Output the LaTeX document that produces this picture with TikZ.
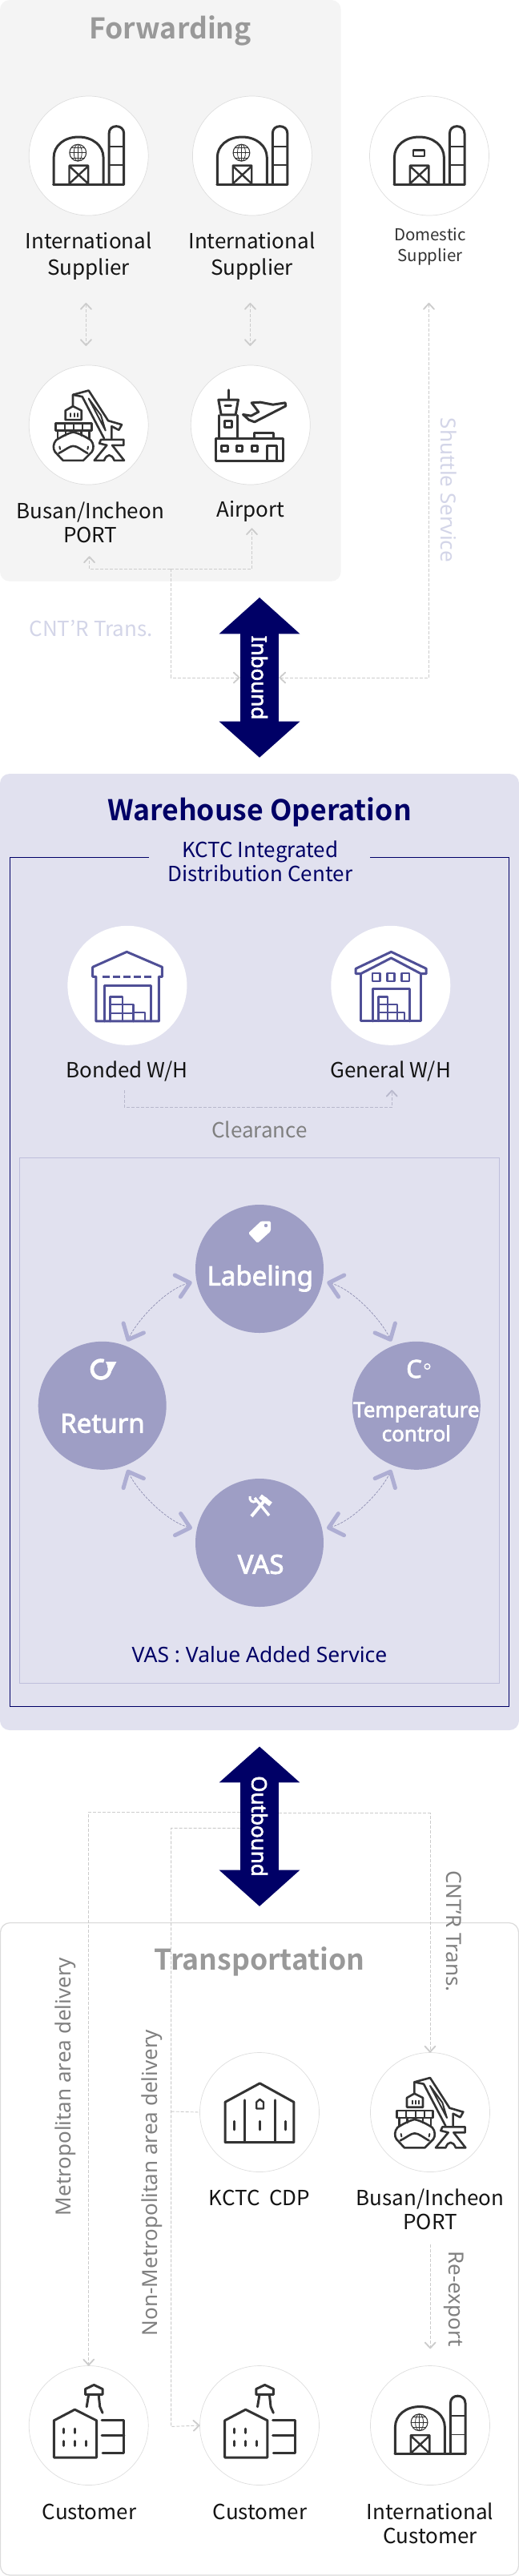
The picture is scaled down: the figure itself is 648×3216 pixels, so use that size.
\documentclass[tikz,border=0pt]{standalone}
\usepackage{fontspec}
\usetikzlibrary{arrows.meta}
\newfontfamily\kr{Noto Sans CJK KR}
\newfontfamily\krb{Noto Sans CJK KR Bold}
\newfontfamily\ns{Noto Sans}
\newfontfamily\nsb[FakeBold=2.6]{Noto Sans}
\definecolor{navyk}{HTML}{000066}
\definecolor{panelg}{HTML}{F4F4F4}
\definecolor{panelv}{HTML}{E1E1EF}
\definecolor{iconk}{HTML}{333333}
\definecolor{iconv}{HTML}{4F4F96}
\definecolor{circv}{HTML}{9E9EC5}
\definecolor{tipv}{HTML}{AEAED3}
\definecolor{paleT}{HTML}{D3D5E8}
\definecolor{flowg}{HTML}{CCCCCC}
\definecolor{flowvc}{HTML}{B8B8CC}
\tikzset{
  tipb/.tip={Straight Barb[length=7pt,width=13pt,line width=1.8pt,round]},
  tipp/.tip={Straight Barb[length=16pt,width=28pt,line width=5pt,round,color=tipv]},
  flow/.style={draw=flowg,line width=0.9pt,dash pattern=on 4pt off 2pt},
  flowv/.style={draw=flowvc,line width=0.9pt,dash pattern=on 4pt off 2pt},
  proc/.style={draw=black!10!circv,line width=0.7pt,dash pattern=on 3pt off 1.5pt,{tipp}-{tipp},shorten <=6pt,shorten >=6pt},
  wcirc/.style={circle,fill=white,draw=black!13,line width=0.7pt,minimum size=149pt,inner sep=0pt,outer sep=0pt},
  wcircn/.style={circle,fill=white,minimum size=149pt,inner sep=0pt,outer sep=0pt},
  pcirc/.style={circle,fill=circv,minimum size=160pt,inner sep=0pt,outer sep=0pt},
  lab/.style={font=\kr\fontsize{26}{30}\selectfont,align=center,inner sep=0pt,text=black!92},
  title/.style={font=\krb\fontsize{35.6}{40}\selectfont,align=center,inner sep=0pt},
  rlab/.style={font=\ns\fontsize{26}{30}\selectfont,inner sep=0pt},
  plab/.style={font=\nsb\fontsize{33}{36}\selectfont,text=white,inner sep=0pt,align=center},
  panel/.style={rectangle,rounded corners=12pt,inner sep=0pt,outer sep=0pt,anchor=north west},
  shaft/.style={rectangle,fill=navyk,minimum width=48.7pt,inner sep=0pt,outer sep=0pt},
  ibar/.style={font=\nsb\fontsize{26}{28}\selectfont,text=white,rotate=-90,inner sep=0pt},
  ik/.style={draw=iconk,line width=3pt,line join=round,line cap=round,fill=none},
  ikt/.style={draw=iconk,line width=1.9pt,line join=round,line cap=round,fill=none},
  iv/.style={draw=iconv,line width=3pt,line join=round,line cap=round,fill=none},
  barnbody/.pic={
    \begin{scope}[x=0.4132pt,y=-0.3333pt,shift={(-268.5,-583.5)}]
      \draw[ik] (163,690) -- (163,590) .. controls (163,545) and (195,513) .. (238,513) .. controls (280,513) and (313,545) .. (313,590) -- (313,690);
      \draw[ik] (330,690) -- (330,500) .. controls (330,482) and (340,473) .. (352,473) .. controls (364,473) and (375,482) .. (375,500) -- (375,690);
      \draw[ik] (162,690) -- (375,690);
      \draw[ikt] (330,548) -- (375,548) (330,618) -- (375,618);
      \draw[ikt,line width=2.4pt] (210,690) -- (210,620) -- (267,620) -- (267,690) (210,622) -- (267,688) (267,622) -- (210,688);
    \end{scope}},
  globe/.pic={
    \begin{scope}[x=0.4132pt,y=-0.3333pt,shift={(-268.5,-583.5)}]
      \draw[iconk,line width=1.1pt] (236,572) ellipse[x radius=10.4pt,y radius=10.4pt];
      \draw[iconk,line width=0.8pt] (236,572) ellipse[x radius=5pt,y radius=10.4pt];
      \draw[iconk,line width=0.8pt] (236,541) -- (236,603) (211,572) -- (261,572) (216,553) -- (256,553) (216,591) -- (256,591);
    \end{scope}},
  signp/.pic={
    \begin{scope}[x=0.4132pt,y=-0.3333pt,shift={(-1297,-583.5)}]
      \draw[ikt,line width=2.4pt] (1248,563) rectangle (1283,585);
    \end{scope}},
  shipcrane/.pic={
    \begin{scope}[x=0.3333pt,y=-0.3333pt,shift={(-272,-241)}]
      \draw[ik,line width=2.6pt] (213,172) -- (213,128) -- (272,112) -- (345,225) -- (396,240) -- (385,260) -- (358,246) -- (358,292);
      \draw[ik,line width=2.6pt] (213,128) -- (248,135) -- (330,292);
      \draw[ik,line width=2pt] (272,142) -- (335,262) -- (318,205) -- cycle;
      \draw[ik,line width=2.6pt] (318,296) -- (403,296) -- (403,317) -- (360,317) -- (405,374) -- (368,374) .. controls (358,348) and (340,348) .. (330,374) -- (293,374) -- (340,317) -- (312,310) -- cycle;
      \draw[ik,line width=2.6pt] (185,222) -- (185,187) -- (213,171) -- (245,187) -- (245,222) -- cycle;
      \draw[ik,line width=2pt] (205,198) -- (205,210) (218,198) -- (218,210) (231,198) -- (231,210);
      \draw[ik,line width=2.6pt] (148,235) rectangle (283,262);
      \draw[ik,line width=2.2pt] (183,235) -- (183,262) (217,235) -- (217,262) (250,235) -- (250,262);
      \draw[ik,line width=2.6pt] (156,262) -- (156,292) (186,262) -- (186,280) (245,262) -- (245,280) (275,262) -- (275,292);
      \draw[ik,line width=2.6pt] (150,298) .. controls (170,285) and (195,272) .. (214,268) .. controls (235,272) and (260,285) .. (280,298) .. controls (292,312) and (292,330) .. (284,342) -- (252,374) -- (176,374) -- (146,342) .. controls (138,330) and (138,312) .. (150,298) -- cycle;
      \draw[ik,line width=2.6pt] (160,347) .. controls (185,335) and (200,320) .. (214,320) .. controls (230,320) and (245,335) .. (268,347);
      \draw[ik,line width=2pt] (163,322) -- (165,332) (270,322) -- (268,332);
    \end{scope}},
  airportp/.pic={
    \begin{scope}[x=0.3333pt,y=-0.3333pt,shift={(-878,-241)}]
      \draw[ik] (795,110) -- (795,145);
      \draw[ik] (758,147) -- (832,147) -- (822,203) -- (768,203) -- cycle;
      \draw[ik] (782,170) -- (805,170);
      \draw[ik] (760,205) -- (760,292) (830,205) -- (830,292);
      \draw[ik] (782,225) rectangle (808,250);
      \draw[ik] (748,293) rectangle (1000,375);
      \draw[ik] (893,290) -- (893,270) -- (965,270) -- (965,290);
      \draw[ik] (770,318) rectangle (792,340) (826,318) rectangle (848,340) (882,318) rectangle (905,340);
      \draw[ik] (940,375) -- (940,318) -- (976,318) -- (976,375);
      \draw[ik] (1008,158) -- (962,165) -- (915,156) -- (882,158) -- (908,192) -- (880,207) -- (850,202) -- (872,222) -- (893,230) -- (1010,170) -- cycle;
    \end{scope}},
  bondedp/.pic={
    \begin{scope}[x=0.4132pt,y=-0.3333pt,shift={(-384.5,-841)}]
      \draw[iv] (290,975) -- (290,808) -- (280,808) -- (280,772) -- (383,715) -- (490,772) -- (490,808) -- (480,808) -- (480,975) -- cycle;
      \draw[iv,dash pattern=on 9pt off 4pt,line cap=butt] (310,810) -- (460,810);
      \draw[iv] (315,975) -- (315,842) -- (457,842) -- (457,975);
      \draw[iv,line width=2.6pt] (332,975) -- (332,883) -- (370,883) -- (370,975) (370,912) -- (403,912) -- (403,975) (403,942) -- (438,942) -- (438,975) (332,912) -- (370,912) (332,945) -- (403,945);
    \end{scope}},
  generalp/.pic={
    \begin{scope}[x=0.4132pt,y=-0.3333pt,shift={(-1180.5,-841)}]
      \draw[iv] (1090,797) -- (1090,975) -- (1272,975) -- (1272,797);
      \draw[iv] (1075,797) -- (1075,778) -- (1182,715) -- (1288,778) -- (1288,797) -- (1272,797) -- (1182,738) -- (1090,797) -- cycle;
      \draw[iv,line width=2.6pt] (1125,795) rectangle (1148,825) (1170,795) rectangle (1192,825) (1213,795) rectangle (1237,825);
      \draw[iv] (1127,975) -- (1127,853) -- (1237,853) -- (1237,975);
      \draw[iv,line width=2.4pt] (1143,975) -- (1143,883) -- (1172,883) -- (1172,975) (1172,912) -- (1200,912) -- (1200,975) (1200,942) -- (1222,942) -- (1222,975) (1143,912) -- (1172,912) (1143,942) -- (1200,942);
    \end{scope}},
  cdpp/.pic={
    \begin{scope}[x=0.4132pt,y=-0.3509pt,shift={(-784,-1388)}]
      \draw[ik] (680,1495) -- (680,1352) -- (785,1285) -- (888,1352) -- (888,1495) -- cycle;
      \draw[ik] (740,1345) -- (740,1495) (830,1345) -- (830,1495);
      \draw[ik,line width=2.4pt] (775,1375) -- (775,1352) -- (785,1342) -- (796,1352) -- (796,1375) -- cycle;
      \draw[ik] (708,1420) -- (708,1450) (785,1420) -- (785,1450) (862,1420) -- (862,1450);
    \end{scope}},
  custp/.pic={
    \begin{scope}[x=0.4132pt,y=-0.3419pt,shift={(-268,-1018)}]
      \draw[ik] (163,1135) -- (163,1000) -- (226,960) -- (292,1000) -- (292,1135) -- cycle;
      \draw[ik] (192,1030) -- (192,1045) (226,1030) -- (226,1045) (192,1075) -- (192,1092) (226,1075) -- (226,1092) (260,1075) -- (260,1092);
      \draw[ik] (258,905) -- (258,885) -- (284,870) -- (310,885) -- (310,905) -- cycle;
      \draw[ik] (268,905) -- (262,950) (298,905) -- (302,950) -- (310,972);
      \draw[ik] (308,1000) -- (375,1000) -- (375,1118) -- (310,1118) (308,1053) -- (375,1053);
    \end{scope}},
}
\begin{document}
\begin{tikzpicture}[x=1pt,y=-1pt]
\path[use as bounding box,fill=white] (0,0) rectangle (648,3216);

% ---- panels
\node[panel,fill=panelg,minimum width=425.6pt,minimum height=725.7pt] (fwd) at (0,0) {};
\node[panel,fill=panelv,minimum width=648pt,minimum height=1194pt] (wh) at (0,966) {};
\node[panel,fill=white,draw=black!14,line width=1.2pt,minimum width=647pt,minimum height=814.5pt] (tr) at (0.5,2400.5) {};

% ---- titles
\node[title,text=black!40] (tfwd) at (212.6,38) {Forwarding};
\node[title,text=navyk] (twh) at (324,1014) {Warehouse Operation};
\node[title,text=black!40] (ttr) at (324,2449) {Transportation};

% ---- forwarding circles
\node[wcirc] (sup1) at (110.7,194.5) {};
\node[wcirc] (sup2) at (314.9,194.5) {};
\node[wcirc] (sup3) at (536,194.5) {};
\node[wcirc] (port1) at (110.7,530.5) {};
\node[wcirc] (air) at (312.8,530.5) {};
\pic at (sup1) {barnbody}; \pic at (sup1) {globe};
\pic at (sup2) {barnbody}; \pic at (sup2) {globe};
\pic at (sup3) {barnbody}; \pic at (sup3) {signp};
\pic at (port1) {shipcrane};
\pic at (air) {airportp};

\node[lab,font=\kr\fontsize{26}{33}\selectfont] (lsup1) at (110.7,319.5) {International\\Supplier};
\node[lab,font=\kr\fontsize{26}{33}\selectfont] (lsup2) at (314.5,319.5) {International\\Supplier};
\node[lab,font=\kr\fontsize{20.5}{26}\selectfont,text=black!80] (lsup3) at (537,307.5) {Domestic\\Supplier};
\node[lab] (lport1) at (112.8,652.5) {Busan/Incheon\\PORT};
\node[lab] (lair) at (312.8,638.5) {Airport};
\node[lab,text=paleT] (lcnt1) at (113.6,785) {CNT’R Trans.};
\node[rlab,rotate=-90,text=paleT] (lshut) at (560.7,612) {Shuttle Service};

% ---- inbound
\node[shaft,minimum height=109.4pt] (inb) at (324,846) {};
\fill[navyk] (inb.north west) -- (273.6,791.3) -- (324,746) -- (374.4,791.3) -- (inb.north east) -- cycle;
\fill[navyk] (inb.south west) -- (273.6,900.7) -- (324,945.7) -- (374.4,900.7) -- (inb.south east) -- cycle;
\node[ibar] (tinb) at (324,846) {Inbound};

\coordinate (a1t) at (107.4,378); \coordinate (a1b) at (107.4,432);
\coordinate (a2t) at (312.4,378); \coordinate (a2b) at (312.4,432);
\draw[flow,{tipb}-{tipb}] (a1t) -- (a1b);
\draw[flow,{tipb}-{tipb}] (a2t) -- (a2b);
\coordinate (shutt) at (535.5,378);
\draw[flow,{tipb}-{tipb}] (shutt) |- (inb.east);
\coordinate (jun) at (213.2,710.3);
\coordinate (pt1) at (111.6,694.3);
\coordinate (pt2) at (314.5,659.3);
\draw[flow,-{tipb}] (jun) |- (inb.west);
\draw[flow,-{tipb}] (jun) -| (pt1);
\draw[flow,-{tipb}] (jun) -| (pt2);

% ---- warehouse
\draw[navyk,line width=1pt] (186,1070) -- (12.4,1070) -- (12.4,2130.8) -- (635.5,2130.8) -- (635.5,1070) -- (462,1070);
\draw[draw=tipv!80,line width=1.3pt] (24.4,1445.7) rectangle (623.6,2101.4);
\node[lab,text=navyk] (lkctc) at (324.8,1075.5) {KCTC Integrated\\Distribution Center};
\node[wcircn] (bond) at (158.9,1230.3) {};
\node[wcircn] (gen) at (487.8,1230.3) {};
\pic at (bond) {bondedp};
\pic at (gen) {generalp};
\node[lab] (lbond) at (158.7,1337.5) {Bonded W/H};
\node[lab] (lgen) at (487.6,1337.5) {General W/H};
\node[lab,text=black!50] (lclr) at (324,1410.5) {Clearance};
\coordinate (clra) at (155.4,1361); \coordinate (clrb) at (489.3,1360.7); \coordinate (clrm) at (324,1382.3);
\draw[flowv] (clra) |- (clrm);
\draw[flowv,-{tipb}] (clrm) -| (clrb);

\node[pcirc] (plab) at (324,1584) {};
\node[pcirc] (pret) at (127.7,1754.8) {};
\node[pcirc] (ptem) at (519.8,1754.8) {};
\node[pcirc] (pvas) at (324,1926) {};
\draw[proc] (plab.191) .. controls +(-38,10) and +(15,-32) .. (pret.69);
\draw[proc] (plab.349) .. controls +(38,10) and +(-15,-32) .. (ptem.111);
\draw[proc] (pret.-69) .. controls +(15,32) and +(-38,-10) .. (pvas.168);
\draw[proc] (pvas.12) .. controls +(38,-10) and +(-15,32) .. (ptem.-111);

\node[plab] (tlab) at (324.8,1596) {Labeling};
\node[plab] (tret) at (128,1777) {Return};
\node[plab] (tvas) at (325.6,1953) {VAS};
\node[plab,font=\nsb\fontsize{26}{30}\selectfont] (ttem) at (519.8,1775) {Temperature\\control};
\node[font=\ns\fontsize{26.5}{28}\selectfont,text=navyk,inner sep=0pt] (lvas) at (324,2065.5) {VAS : Value Added Service};

% icons in process circles
\fill[white,rounded corners=1.5pt] (310,1539.5) -- (326,1524.5) -- (338,1524.5) -- (338,1537) -- (321.5,1552) -- cycle;
\fill[circv] (332,1530) circle[radius=2.2pt];
\draw[white,line width=4.6pt] plot[smooth,domain=70:385,samples=30] ({126+11*cos(\x)},{1709.5-11*sin(\x)});
\fill[white] (132,1700) -- (145.5,1700) -- (138,1714) -- cycle;
\node[font=\nsb\fontsize{31}{33}\selectfont,text=white,inner sep=0pt] (tc) at (517,1709) {C};
\draw[white,line width=1.4pt] (533.5,1706) circle[radius=3.3pt];
\draw[white,line width=4pt] (314,1893) -- (333,1870);
\draw[white,line width=6pt] (325,1868) -- (338,1878);
\draw[white,line width=3.4pt] (318,1870) -- (336,1892);
\draw[white,line width=3pt] (312,1868) .. controls (311,1873) and (315,1877) .. (320,1874);

% ---- outbound
\node[shaft,minimum height=109.2pt] (outb) at (324,2280) {};
\fill[navyk] (outb.north west) -- (273.6,2225.4) -- (324,2180.5) -- (374.4,2225.4) -- (outb.north east) -- cycle;
\fill[navyk] (outb.south west) -- (273.6,2334.6) -- (324,2379.8) -- (374.4,2334.6) -- (outb.south east) -- cycle;
\node[ibar] (toutb) at (324,2280) {Outbound};

% ---- transportation circles
\node[wcirc] (cdp) at (324,2637) {};
\node[wcirc] (port2) at (537,2637) {};
\node[wcirc] (cust1) at (110.7,3028) {};
\node[wcirc] (cust2) at (324,3028) {};
\node[wcirc] (icust) at (537,3028) {};
\pic at (cdp) {cdpp};
\pic at (port2) {shipcrane};
\pic at (cust1) {custp};
\pic at (cust2) {custp};
\pic at (icust) {barnbody}; \pic at (icust) {globe};

\node[lab] (lcdp) at (324,2743.6) {KCTC\ \ CDP};
\node[lab] (lport2) at (537,2758.5) {Busan/Incheon\\PORT};
\node[lab] (lcust1) at (111.6,3135.7) {Customer};
\node[lab] (lcust2) at (324.4,3135.7) {Customer};
\node[lab] (licust) at (537,3150.5) {International\\Customer};

\node[rlab,rotate=90,text=black!50] (lmet) at (81.4,2605) {Metropolitan area delivery};
\node[rlab,rotate=90,text=black!50] (lnon) at (190,2725) {Non-Metropolitan area delivery};
\node[rlab,rotate=-90,text=black!50] (lcnt2) at (567,2411) {CNT’R Trans.};
\node[rlab,rotate=-90,text=black!50] (lre) at (567,2870) {Re-export};

\coordinate (ob1) at (299.6,2262.3);
\coordinate (ob2) at (299.6,2282.3);
\coordinate (ob3) at (348.3,2263.3);
\coordinate (nj) at (213.6,2636);
\coordinate (ree1) at (537.2,2802.4);
\coordinate (ree2) at (537.2,2932.3);
\draw[flow,-{tipb}] (ob1) -| (cust1.north);
\draw[flow,-{tipb}] (ob2) -| (213.6,3029.4) -- (cust2.west);
\draw[flow] (nj) -- (cdp.west);
\draw[flow,-{tipb}] (ob3) -| (port2.north);
\draw[flow,-{tipb}] (ree1) -- (ree2);
\end{tikzpicture}
\end{document}
